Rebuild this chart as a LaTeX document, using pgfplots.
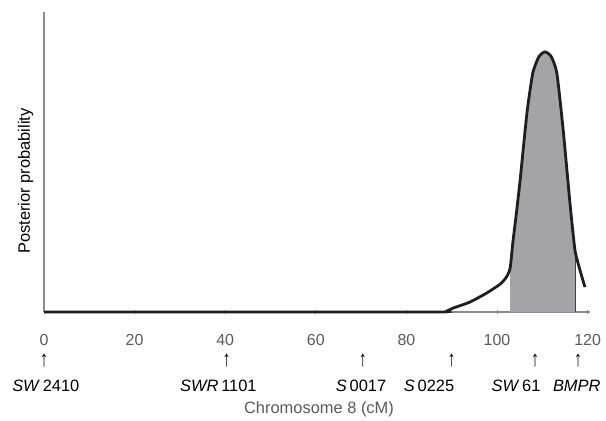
\documentclass[border=0pt]{standalone}
\usepackage{pgfplots}
\pgfplotsset{compat=1.18}
\usepgfplotslibrary{fillbetween}
\usepackage{fontspec}
\setmainfont{Liberation Sans}
\definecolor{axisgray}{HTML}{8C8C8C}
\definecolor{ticktxt}{HTML}{5A5A5A}
\definecolor{bandgray}{HTML}{A4A4A8}
\definecolor{curveblack}{HTML}{1E1E1E}

% posterior density along chromosome 8 (cM, rel. probability)
\pgfplotstableread{
x y
0 0
60 0
87.4 0
88.9 0.003
90.3 0.013
94.0 0.033
97.7 0.063
100.7 0.093
102.1 0.117
102.9 0.147
103.5 0.233
104.3 0.333
105.1 0.440
106.6 0.663
107.9 0.797
109.3 0.853
110.6 0.867
111.9 0.853
113.2 0.797
114.6 0.607
116.1 0.363
117.2 0.207
118.3 0.140
119.4 0.083
}\postcurve

\begin{document}
\begin{tikzpicture}
\begin{axis}[
  scale only axis,
  width=545.9bp, height=300bp,
  xmin=0, xmax=120.5, ymin=0, ymax=1,
  axis x line=bottom, axis y line=left,
  axis line style={-, axisgray, line width=1.1bp},
  xtick={0,20,...,120}, ytick=\empty,
  tick align=center, major tick length=5bp,
  tick style={axisgray, line width=0.8bp},
  /pgf/number format/assume math mode=true,
  xticklabel style={anchor=center, yshift=-26bp, inner sep=0pt, font=\fontsize{16}{18}\selectfont, text=ticktxt},
  clip=false,
]
\addplot[draw=none, name path=curve] table[x=x, y=y] {\postcurve};
\path[name path=base] (axis cs:0,0) -- (axis cs:120,0);
\addplot[bandgray, draw=none] fill between[of=curve and base, soft clip={domain=102.9:117.2}];
\addplot[gray!50!black, line width=0.9bp] coordinates {(117.2,0) (117.2,0.207)};
\addplot[curveblack, line width=2.8bp, smooth, tension=0.35] table[x=x, y=y] {\postcurve};

% marker arrows and names
\pgfplotsinvokeforeach{0, 40.3, 70.4, 90.0, 108.4, 117.9}{
  \node[inner sep=0pt, font=\fontsize{16}{16}\selectfont] at ([yshift=-49bp]axis cs:#1,0) {\scalebox{1}[1.4]{↑}};
}
\node[font=\fontsize{16.5}{18}\selectfont] at ([yshift=-74bp]axis cs:0.4,0) {\textit{SW}\,2410};
\node[font=\fontsize{16.5}{18}\selectfont] at ([yshift=-74bp]axis cs:38.5,0) {\textit{SWR}\,1101};
\node[font=\fontsize{16.5}{18}\selectfont] at ([yshift=-74bp]axis cs:70.0,0) {\textit{S}\,0017};
\node[font=\fontsize{16.5}{18}\selectfont] at ([yshift=-74bp]axis cs:85.0,0) {\textit{S}\,0225};
\node[font=\fontsize{16.5}{18}\selectfont] at ([yshift=-74bp]axis cs:104.2,0) {\textit{SW}\,61};
\node[font=\fontsize{16.5}{18}\selectfont] at ([yshift=-74bp]axis cs:117.6,0) {\textit{BMPR}};
\node[font=\fontsize{16.5}{18}\selectfont, text=ticktxt] at ([yshift=-97bp]axis cs:60.7,0) {Chromosome 8 (cM)};
\node[rotate=90, font=\fontsize{16.5}{18}\selectfont] at ([xshift=-18.5bp]axis cs:0,0.437) {Posterior probability};
% page frame: 606 x 421 around the plot area
\path ([xshift=-44bp,yshift=-109bp]axis cs:0,0) -- ([xshift=562bp,yshift=312bp]axis cs:0,0);
\end{axis}
\end{tikzpicture}
\end{document}
